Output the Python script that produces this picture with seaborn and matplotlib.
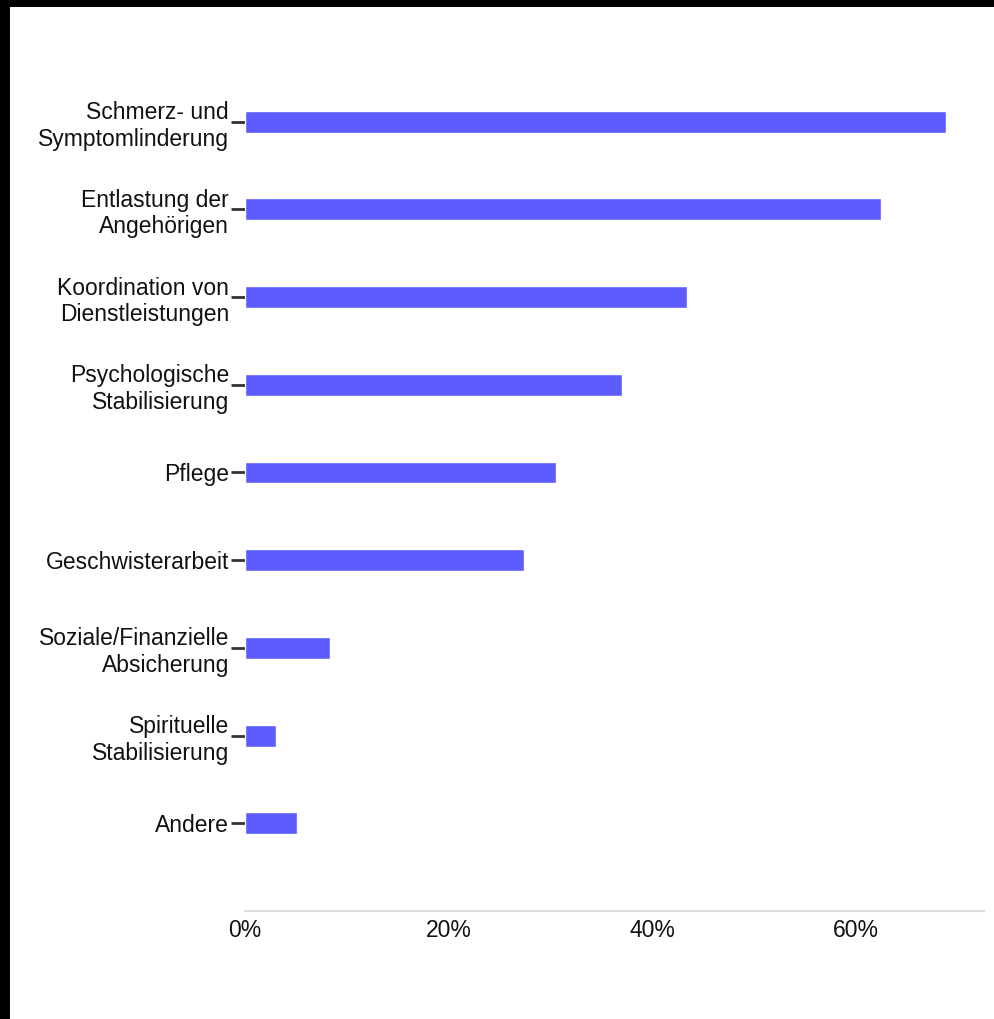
import matplotlib
matplotlib.use("Agg")
import matplotlib.pyplot as plt
import seaborn as sns
import pandas as pd
from matplotlib.patches import Rectangle
from matplotlib.ticker import FuncFormatter

# Werte (Anteil in %)
kategorien = [
    "Schmerz- und\nSymptomlinderung",
    "Entlastung der\nAngehörigen",
    "Koordination von\nDienstleistungen",
    "Psychologische\nStabilisierung",
    "Pflege",
    "Geschwisterarbeit",
    "Soziale/Finanzielle\nAbsicherung",
    "Spirituelle\nStabilisierung",
    "Andere",
]
anteil = [68.9, 62.5, 43.4, 37.0, 30.6, 27.4, 8.35, 3.05, 5.1]
x_ticks = [0, 20, 40, 60]

df = pd.DataFrame({"Kategorie": kategorien, "Anteil": anteil})

sns.set_style("white")
plt.rcParams["font.family"] = ["Liberation Sans", "DejaVu Sans"]

fig = plt.figure(figsize=(9.94, 10.19), dpi=100, facecolor="black")
# weisser Hintergrund, schwarzer Rand oben und links wie im Screenshot
fig.patches.append(Rectangle((10 / 994, 0), 1, (1019 - 7) / 1019,
                             transform=fig.transFigure, facecolor="white",
                             edgecolor="none", zorder=-1))

ax = fig.add_axes([245 / 994, (1019 - 911) / 1019, (984 - 245) / 994, (911 - 34) / 1019])
ax.set_facecolor("none")

sns.barplot(data=df, x="Anteil", y="Kategorie", orient="h", color="#5c5cff",
            width=0.25, saturation=1, ax=ax)

ax.set_xlim(0, 72.6)
ax.set_ylim(9, -1)
ax.set_xticks(x_ticks)
ax.xaxis.set_major_formatter(FuncFormatter(lambda v, p: f"{v:.0f}%"))
ax.set_xlabel("")
ax.set_ylabel("")

for s in ["top", "right", "left"]:
    ax.spines[s].set_visible(False)
ax.spines["bottom"].set_color("#dddddd")
ax.spines["bottom"].set_linewidth(1.5)

ax.tick_params(axis="x", length=0, pad=6, labelsize=16.5, labelcolor="#111111")
ax.tick_params(axis="y", left=True, length=10, width=2, color="#333333", pad=1.5,
               labelsize=16.5, labelcolor="#111111")
for lab in ax.get_yticklabels():
    lab.set_linespacing(1.2)
for lab in ax.get_xticklabels():
    lab.set_x(lab.get_position()[0])
    lab.set_horizontalalignment("center")

fig.savefig("out.png", dpi=100, facecolor=fig.get_facecolor())
